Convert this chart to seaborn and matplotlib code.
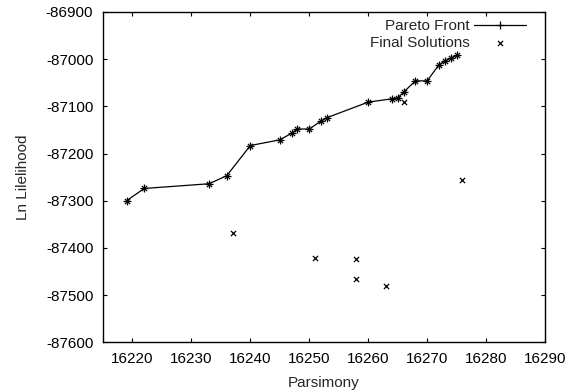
import seaborn as sns
import matplotlib
matplotlib.use('Agg')
import matplotlib.pyplot as plt

# Frente de Pareto (parsimonia vs ln verosimilitud)
pareto_x = [16219, 16222, 16233, 16236, 16240, 16245, 16247, 16248, 16250, 16252, 16253,
            16260, 16264, 16265, 16266, 16268, 16270, 16272, 16273, 16274, 16275]
pareto_y = [-87300, -87274, -87264, -87247, -87183, -87171, -87157, -87148, -87148, -87131, -87124,
            -87091, -87084, -87082, -87070, -87046, -87046, -87012, -87004, -86998, -86992]

# Soluciones finales que no estan en el frente
extra_x = [16237, 16251, 16258, 16258, 16263, 16266, 16276]
extra_y = [-87369, -87421, -87424, -87466, -87480, -87091, -87257]

final_x = pareto_x + extra_x
final_y = pareto_y + extra_y

x_ticks = list(range(16220, 16291, 10))
y_ticks = list(range(-87600, -86899, 100))

sns.set_style('ticks')
plt.rcParams['font.family'] = ['Liberation Sans', 'DejaVu Sans']
plt.rcParams['font.size'] = 11
plt.rcParams['axes.unicode_minus'] = False

fig = plt.figure(figsize=(5.68, 3.92), dpi=100)
ax = fig.add_axes([0.1813, 0.1268, 0.7782, 0.8426])

sns.lineplot(x=pareto_x, y=pareto_y, sort=False, estimator=None, color='black',
             linewidth=0.9, marker='+', markersize=6, markeredgewidth=0.9,
             markeredgecolor='black', label='Pareto Front', ax=ax)
sns.scatterplot(x=final_x, y=final_y, marker='x', color='black', s=14, linewidth=0.9,
                label='Final Solutions', ax=ax)

ax.set_xlim(16215, 16290)
ax.set_ylim(-87600, -86900)
ax.set_xticks(x_ticks)
ax.set_yticks(y_ticks)
ax.set_xlabel('Parsimony', fontsize=11, labelpad=7)
ax.set_ylabel('Ln Lilelihood', fontsize=11, labelpad=11)

ax.tick_params(direction='in', top=True, right=True, length=3, width=0.8,
               labelsize=11, pad=7, colors='black')
for s in ax.spines.values():
    s.set_visible(True)
    s.set_linewidth(1.0)
    s.set_color('black')

ax.legend(loc='upper right', bbox_to_anchor=(0.957, 0.978), frameon=False,
          markerfirst=False, alignment='right', numpoints=1, scatterpoints=1,
          handlelength=3.4, handletextpad=0.3, labelspacing=0.17,
          borderaxespad=0, borderpad=0, fontsize=11)

plt.savefig('out.png', dpi=100)
